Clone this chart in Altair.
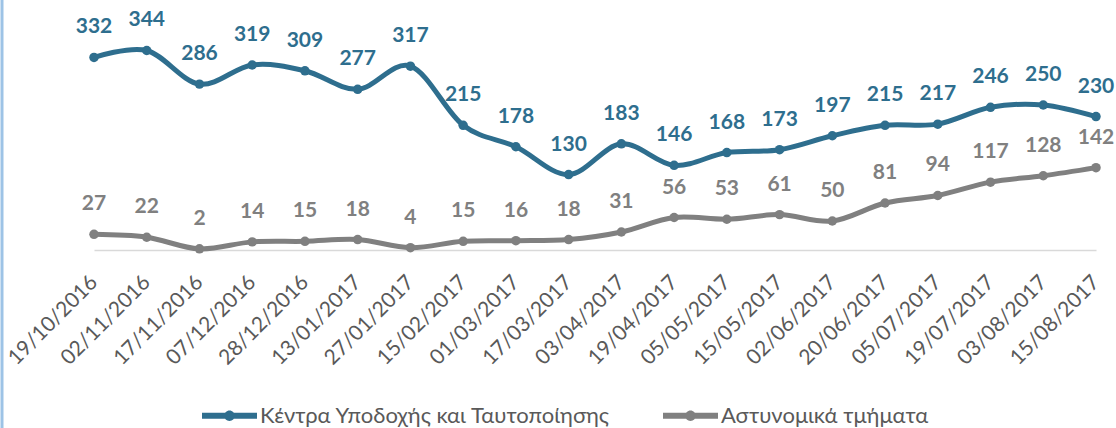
import altair as alt
import pandas as pd

dates = ["19/10/2016", "02/11/2016", "17/11/2016", "07/12/2016", "28/12/2016",
         "13/01/2017", "27/01/2017", "15/02/2017", "01/03/2017", "17/03/2017",
         "03/04/2017", "19/04/2017", "05/05/2017", "15/05/2017", "02/06/2017",
         "20/06/2017", "05/07/2017", "19/07/2017", "03/08/2017", "15/08/2017"]
centres = [332, 344, 286, 319, 309, 277, 317, 215, 178, 130,
           183, 146, 168, 173, 197, 215, 217, 246, 250, 230]
police = [27, 22, 2, 14, 15, 18, 4, 15, 16, 18,
          31, 56, 53, 61, 50, 81, 94, 117, 128, 142]
series_names = ["Κέντρα Υποδοχής και Ταυτοποίησης", "Αστυνομικά τμήματα"]
colors = ["#2E6E8E", "#808080"]

rows = []
for i, d in enumerate(dates):
    rows.append({"date": d, "series": series_names[0], "value": centres[i]})
    rows.append({"date": d, "series": series_names[1], "value": police[i]})
df = pd.DataFrame(rows)

FONT = "Lato"

x = alt.X("date:N", sort=dates, title=None,
          scale=alt.Scale(type="point", padding=0),
          axis=alt.Axis(labelAngle=-45, labelAlign="right", labelBaseline="middle",
                        labelPadding=29, ticks=False, domainColor="#D9D9D9",
                        domainWidth=1.5, labelFontSize=21, labelColor="#595959",
                        labelFont=FONT, grid=False, labelOverlap=False))
y = alt.Y("value:Q", scale=alt.Scale(domain=[0, 400], nice=False), axis=None)
color_scale = alt.Scale(domain=series_names, range=colors)

base = alt.Chart(df)

lines = base.mark_line(interpolate="cardinal", strokeWidth=5).encode(
    x=x, y=y,
    color=alt.Color("series:N", scale=color_scale, legend=None),
    detail="series:N",
)

legend_path = ("M-1,-0.105L1,-0.105L1,0.105L-1,0.105Z "
               "M0.19,0A0.19,0.19,0,1,1,-0.19,0A0.19,0.19,0,1,1,0.19,0Z")

points = base.mark_point(filled=True, size=90, opacity=1).encode(
    x=x, y=y,
    color=alt.Color("series:N", scale=color_scale, sort=series_names,
                    legend=alt.Legend(title=None, orient="none", direction="horizontal",
                                      legendX=108, legendY=370, padding=0,
                                      symbolType=legend_path, symbolSize=3025,
                                      symbolStrokeWidth=0, symbolOpacity=1,
                                      labelFont=FONT, labelFontSize=22,
                                      labelColor="#595959", labelOffset=3,
                                      columnPadding=52, labelLimit=600)),
)

labels = base.mark_text(dy=-30, fontSize=21, fontWeight="bold", font=FONT,
                        baseline="middle").encode(
    x=x, y=y, text="value:Q",
    color=alt.Color("series:N", scale=color_scale, legend=None),
)

border = alt.Chart(pd.DataFrame({"v": [0]})).mark_rule(
    color="#9DC3E6", strokeWidth=3, clip=False).encode(
    x=alt.value(-92), y=alt.value(-18), y2=alt.value(410))

chart = alt.layer(border, lines, points, labels).resolve_legend(
    color="independent"
).properties(
    width=1002, height=232,
    padding={"left": 94, "top": 18, "right": 20, "bottom": 178},
    autosize=alt.AutoSizeParams(type="none"),
).configure_view(stroke=None)

chart.save("out.html", embed_options={"renderer": "svg", "actions": False})
